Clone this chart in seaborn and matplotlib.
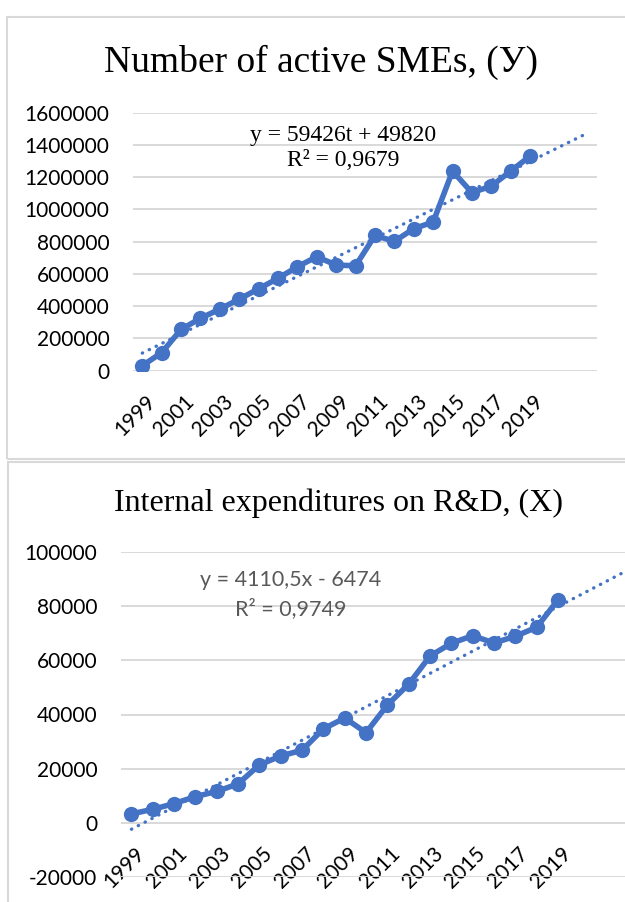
import matplotlib
matplotlib.use("Agg")
import matplotlib.pyplot as plt
import matplotlib.transforms as mtransforms
import seaborn as sns
import numpy as np

# Data
years = [1999, 2000, 2001, 2002, 2003, 2004, 2005, 2006, 2007, 2008, 2009,
         2010, 2011, 2012, 2013, 2014, 2015, 2016, 2017, 2018, 2019]
smes = [31000, 112000, 256000, 325000, 382000, 444000, 508000, 573000, 645000,
        707000, 655000, 651000, 839000, 802000, 881000, 922000, 1238000,
        1104000, 1145000, 1238000, 1331000]
rnd = [3300, 5000, 7100, 9700, 11600, 14400, 21400, 24700, 26800, 34700,
       38700, 33300, 43500, 51200, 61600, 66300, 69100, 66400, 68900, 72200,
       82300]
# trend line coefficients as printed on the charts
smes_trend = (59426, 49820)
rnd_trend = (4110.5, -6474)
forecast = 3  # trend lines run 3 periods past the last year

BLUE = "#4472C4"
GRID = "#d9d9d9"
W, H = 625, 902

sns.set_style("white")
plt.rcParams["font.family"] = ["Lato", "DejaVu Sans"]
plt.rcParams["text.color"] = "black"

fig = plt.figure(figsize=(W / 100, H / 100), dpi=100)


def px_box(l, t, r, b):
    return [l / W, 1 - b / H, (r - l) / W, (b - t) / H]


# light grey frames around each chart
for (l, t, r, b) in [(7, 16.5, 640, 459), (8, 461.5, 640, 920)]:
    fig.add_artist(plt.Rectangle((l / W, 1 - b / H), (r - l) / W, (b - t) / H,
                                 transform=fig.transFigure, fill=False,
                                 edgecolor=GRID, lw=1.5))


def draw_panel(ax, values, coef, ylim, ystep, xlim):
    t = np.arange(1, len(values) + 1)
    sns.lineplot(x=t, y=values, ax=ax, color=BLUE, lw=4, marker="o",
                 markersize=11, markeredgecolor=BLUE, markeredgewidth=0,
                 zorder=3)
    tt = np.arange(1, len(values) + forecast + 1)
    sns.lineplot(x=tt, y=coef[0] * tt + coef[1], ax=ax, color=BLUE, lw=2.4,
                 linestyle=(0, (0.1, 2.2)), dash_capstyle="round", zorder=4)
    ax.set_xlim(*xlim)
    ax.set_ylim(*ylim)
    for s in ax.spines.values():
        s.set_visible(False)
    ax.spines["bottom"].set_position(("data", 0))
    ax.yaxis.grid(True, color=GRID, lw=1.4)
    ax.set_axisbelow(True)
    ax.tick_params(axis="y", length=0, pad=17, labelsize=15, labelcolor="black")
    ax.tick_params(axis="x", length=0, pad=15, labelsize=15, labelcolor="black")
    yt = np.arange(ylim[0], ylim[1] + 1, ystep)
    ax.set_yticks(yt)
    ax.set_yticklabels([f"{v:d}" for v in yt])
    ax.set_xticks(t[::2])
    ax.set_xticklabels([str(y) for y in years[::2]])
    off = mtransforms.ScaledTranslation(2 / 72, 0, fig.dpi_scale_trans)
    for lab in ax.get_xticklabels():
        lab.set_rotation(45)
        lab.set_ha("right")
        lab.set_va("top")
        lab.set_rotation_mode("anchor")
        lab.set_transform(lab.get_transform() + off)
    ax.set_xlabel("")
    ax.set_ylabel("")


serif = ["Liberation Serif", "DejaVu Serif"]

# top chart: Number of active SMEs
ax1 = fig.add_axes(px_box(133, 112.7, 597, 370.7))
draw_panel(ax1, smes, smes_trend, (0, 1600000), 200000, (0.52, 24.45))
fig.text(321 / W, 1 - 62 / H, "Number of active SMEs, (У)", ha="center",
         va="center", fontsize=27, family=serif)
fig.text(343 / W, 1 - 135 / H, f"y = {smes_trend[0]}t + {smes_trend[1]}",
         ha="center", va="center", fontsize=17, family=serif)
fig.text(343 / W, 1 - 161 / H, "R² = 0,9679", ha="center", va="center",
         fontsize=17, family=serif)

# bottom chart: Internal expenditures on R&D
ax2 = fig.add_axes(px_box(120.8, 552, 632, 877))
draw_panel(ax2, rnd, rnd_trend, (-20000, 100000), 20000, (0.5, 24.47))
fig.text(339 / W, 1 - 503 / H, "Internal expenditures on R&D, (X)",
         ha="center", va="center", fontsize=23, family=serif)
fig.text(291 / W, 1 - 580 / H, "y = 4110,5x - 6474", ha="center",
         va="center", fontsize=15.5, color="#595959")
fig.text(291 / W, 1 - 609 / H, "R² = 0,9749", ha="center", va="center",
         fontsize=15.5, color="#595959")

fig.savefig("out.png", dpi=100)
